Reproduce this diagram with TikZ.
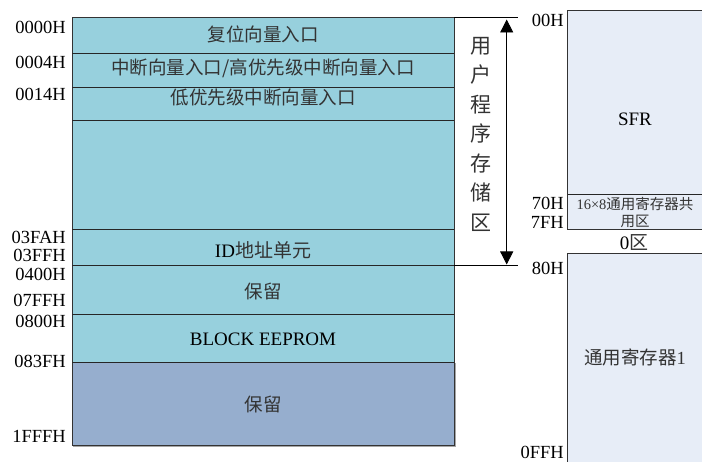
\documentclass[tikz,border=0pt]{standalone}
\usepackage{fontspec}
\setmainfont{Liberation Serif}
\newfontfamily\cjk{Noto Sans CJK SC}
\usetikzlibrary{arrows.meta}
\definecolor{cyanfill}{HTML}{97D0DD}
\definecolor{bluefill}{HTML}{96AECE}
\definecolor{lightfill}{HTML}{E7EDF7}
\tikzset{
  addr/.style={anchor=east,inner sep=0pt,font=\fontsize{18.5}{20}\selectfont},
  lbl/.style={inner sep=0pt,font=\fontsize{19}{20}\selectfont},
  cjkl/.style={inner sep=0pt,font=\fontsize{18.5}{20}\selectfont\cjk,text=black!80},
  sep/.style={line width=0.9pt,draw=black!85},
  boxline/.style={line width=1pt,draw=black!80},
}
\begin{document}
\begin{tikzpicture}[x=1pt,y=-1pt]
\useasboundingbox (0,0) rectangle (702,462);
% left column fills
\fill[cyanfill] (72,17.5) rectangle (454,362);
\fill[bluefill] (72,362) rectangle (454,445);
\draw[gray!70,line width=1.2pt] (73,446.5) -- (455.5,446.5) -- (455.5,363);
\draw[boxline] (72,17.5) rectangle (454,445);
\foreach \yy in {53.3,87.3,120.5,229.2,265.4,314,362}{\draw[sep] (72,\yy) -- (454,\yy);}
% row texts
\node[cjkl] (r1) at (263,34) {复位向量入口};
\node[cjkl] (r2) at (263,68) {中断向量入口/高优先级中断向量入口};
\node[cjkl] (r3) at (263,98) {低优先级中断向量入口};
\node[lbl] (r4) at (263,250) {ID{\cjk\color{black!80}地址单元}};
\node[cjkl] (r5) at (263,291) {保留};
\node[lbl] (r6) at (263,339) {BLOCK EEPROM};
\node[cjkl] (r7) at (263,404) {保留};
% addresses
\node[addr] (a1) at (66,27) {0000H};
\node[addr] (a2) at (66,62) {0004H};
\node[addr] (a3) at (66,94) {0014H};
\node[addr] (a4) at (66,237) {03FAH};
\node[addr] (a5) at (66,255) {03FFH};
\node[addr] (a6) at (66,274) {0400H};
\node[addr] (a7) at (66,300) {07FFH};
\node[addr] (a8) at (66,321) {0800H};
\node[addr] (a9) at (66,361) {083FH};
\node[addr] (a10) at (66,436) {1FFFH};
% bracket arrow
\coordinate (t1) at (454,17.3);
\coordinate (t2) at (518,17.3);
\coordinate (b1) at (454,265.2);
\coordinate (b2) at (518,265.2);
\draw[line width=0.8pt] (t1) -- (t2);
\draw[line width=0.8pt] (b1) -- (b2);
\coordinate (at) at (506.7,19.5);
\coordinate (ab) at (506.7,264.5);
\draw[line width=0.8pt,{Triangle[length=13pt,width=13pt]}-{Triangle[length=13pt,width=13pt]}] (at) -- (ab);
\node[inner sep=0pt,font=\fontsize{21}{29.5}\selectfont\cjk,text=black!80,align=center] (v) at (481,134) {用\\户\\程\\序\\存\\储\\区};
% right top box
\fill[lightfill] (567.5,11) rectangle (702,229.3);
\draw[boxline] (702,11) -- (567.5,11) -- (567.5,229.3) -- (702,229.3);
\draw[sep] (567.5,194.7) -- (702,194.7);
\node[lbl] (sfr) at (635,119) {SFR};
\node[inner sep=0pt,font=\fontsize{14.5}{17}\selectfont,align=center,text=black!80] (cm) at (635,212) {16×8{\cjk 通用寄存器共}\\{\cjk 用区}};
\node[lbl] (z0) at (634,243) {0{\cjk\color{black!80}区}};
\node[addr] (b00) at (564,20) {00H};
\node[addr] (b70) at (564,203) {70H};
\node[addr] (b7f) at (564,222) {7FH};
% right bottom box
\fill[lightfill] (567.5,254) rectangle (702,462);
\draw[boxline] (567.5,462) -- (567.5,254) -- (702,254);
\node[addr] (b80) at (564,268) {80H};
\node[addr] (bff) at (564,452) {0FFH};
\node[cjkl] (gr) at (635,357) {通用寄存器{\rmfamily 1}};
\end{tikzpicture}
\end{document}
